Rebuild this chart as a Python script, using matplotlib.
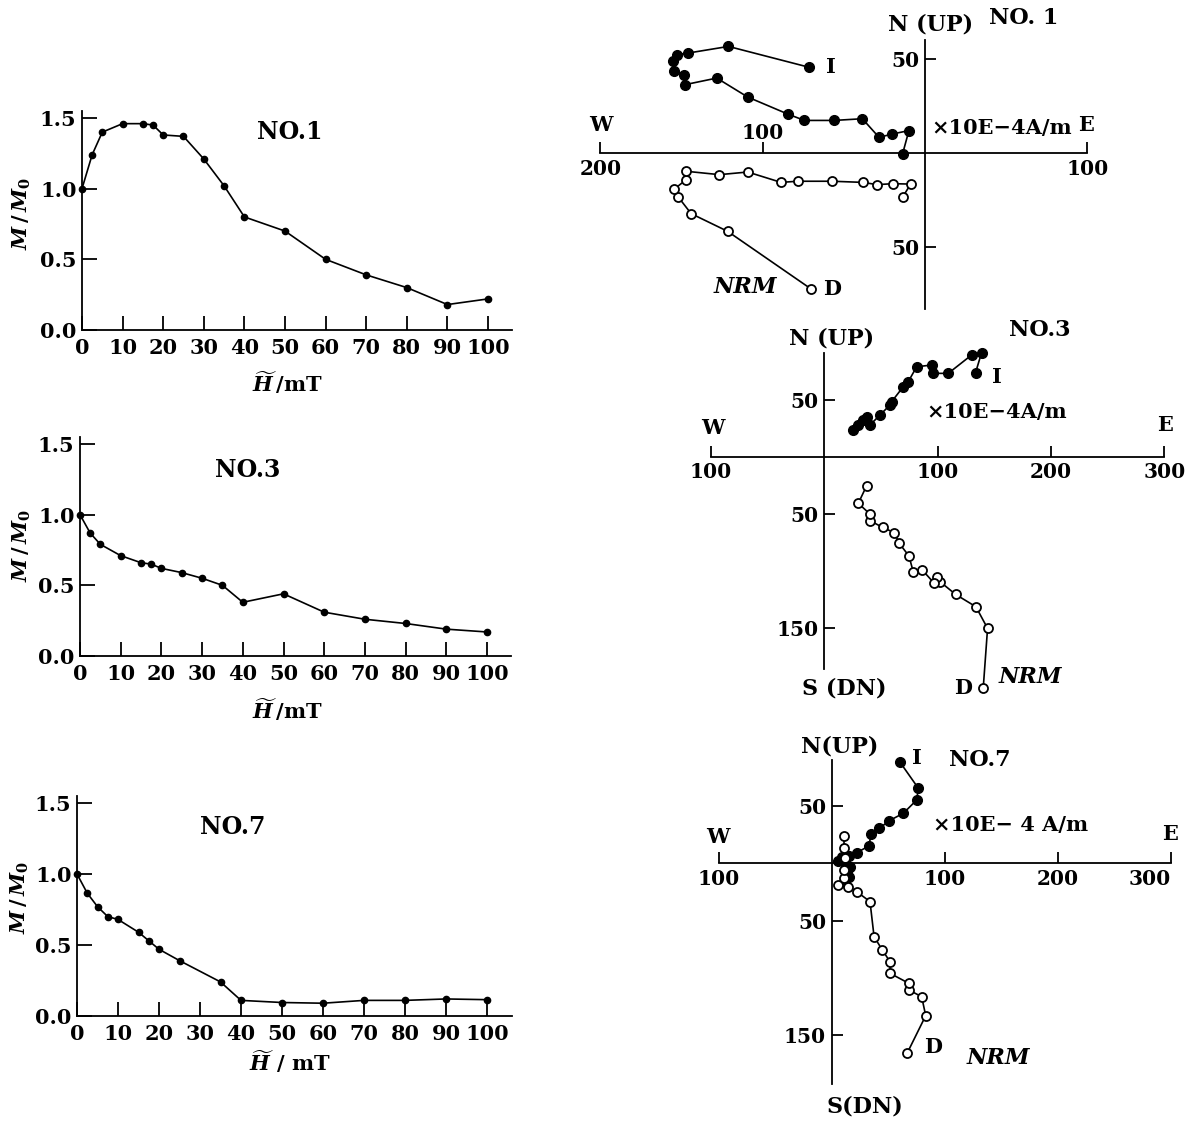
import numpy as np
import matplotlib.pyplot as plt

plt.rcParams['font.family'] = 'DejaVu Serif'
plt.rcParams['font.weight'] = 'bold'
plt.rcParams['mathtext.fontset'] = 'custom'
plt.rcParams['mathtext.rm'] = 'DejaVu Serif:bold'
plt.rcParams['mathtext.it'] = 'DejaVu Serif:italic:bold'
plt.rcParams['axes.linewidth'] = 1.3

W, H = 1190, 1126

# AF demagnetisation curves: M/M0 against peak field (mT)
field_1 = [0, 2.5, 5, 10, 15, 17.5, 20, 25, 30, 35, 40, 50, 60, 70, 80, 90, 100]
ratio_1 = [1.00, 1.24, 1.40, 1.46, 1.46, 1.45, 1.38, 1.37, 1.21, 1.02, 0.80, 0.70,
           0.50, 0.39, 0.30, 0.18, 0.22]
field_3 = [0, 2.5, 5, 10, 15, 17.5, 20, 25, 30, 35, 40, 50, 60, 70, 80, 90, 100]
ratio_3 = [1.00, 0.87, 0.79, 0.71, 0.66, 0.65, 0.62, 0.59, 0.55, 0.50, 0.38, 0.44,
           0.31, 0.26, 0.23, 0.19, 0.17]
field_7 = [0, 2.5, 5, 7.5, 10, 15, 17.5, 20, 25, 35, 40, 50, 60, 70, 80, 90, 100]
ratio_7 = [1.00, 0.865, 0.77, 0.70, 0.68, 0.59, 0.53, 0.47, 0.39, 0.24, 0.11, 0.095,
           0.09, 0.11, 0.11, 0.12, 0.115]
field_ticks = [0, 10, 20, 30, 40, 50, 60, 70, 80, 90, 100]
ratio_ticks = [0.0, 0.5, 1.0, 1.5]

# Zijderveld diagrams (x10E-4 A/m); I = vertical plane (filled), D = horizontal (open)
no1_I_e = [-71.3, -121.1, -145.8, -153.0, -155.0, -154.4, -148.5, -147.8, -128.3,
           -109.2, -84.6, -74.3, -55.9, -38.6, -28.3, -20.1, -9.9, -13.8]
no1_I_n = [45.5, 56.6, 53.1, 52.2, 48.7, 43.4, 41.6, 36.3, 39.8, 29.7, 20.7, 17.3,
           17.3, 18.2, 8.3, 10.1, 11.9, -0.4]
no1_D_e = [-70.2, -121.6, -144.1, -152.0, -154.4, -147.2, -147.2, -126.7, -109.2,
           -88.7, -78.4, -57.1, -38.4, -29.4, -19.9, -8.8, -13.8]
no1_D_n = [-72.2, -41.6, -32.2, -23.4, -19.1, -14.2, -9.7, -11.5, -10.1, -15.6,
           -15.0, -15.0, -15.6, -16.8, -16.3, -16.5, -23.4]

no3_I_e = [133.5, 138.8, 130.0, 109.4, 95.6, 94.7, 81.5, 74.1, 69.7, 59.4, 57.9,
           49.1, 40.3, 37.4, 34.4, 30.0, 25.6]
no3_I_n = [73.7, 91.2, 89.2, 73.1, 73.1, 80.4, 78.9, 65.8, 61.4, 48.2, 45.3, 36.5,
           27.8, 35.1, 32.2, 27.8, 23.4]
no3_D_e = [140.3, 144.1, 133.8, 115.9, 102.1, 99.1, 97.1, 86.5, 78.5, 74.7, 66.2,
           61.8, 51.5, 40.3, 40.3, 30.0, 37.4]
no3_D_n = [-202.6, -150.6, -131.6, -120.8, -109.6, -105.3, -111.1, -99.4, -100.9,
           -87.1, -76.0, -66.7, -62.0, -56.1, -50.3, -40.9, -25.4]

no7_I_e = [60.5, 76.7, 75.2, 63.4, 51.0, 42.2, 34.8, 33.0, 22.1, 15.6, 8.8, 5.9,
           11.8, 16.2, 13.3, 15.6, 11.8]
no7_I_n = [88.1, 65.4, 55.2, 43.6, 37.2, 30.5, 25.6, 15.1, 9.3, 6.4, 5.8, 2.3, 0.0,
           -2.9, -7.3, -11.6, -16.0]
no7_D_e = [67.0, 83.2, 79.6, 68.4, 68.4, 51.6, 51.6, 44.8, 37.5, 33.9, 22.1, 14.7,
           5.9, 10.9, 10.9, 11.8, 10.9, 10.9]
no7_D_n = [-165.1, -132.8, -116.3, -110.5, -104.7, -95.9, -85.8, -75.6, -64.0,
           -33.4, -24.7, -20.3, -18.9, -13.1, -5.8, 4.4, 13.1, 23.8]

fig = plt.figure(figsize=(W / 100, H / 100), dpi=100)


def ftext(x, y, s, size=15, **kw):
    fig.text(x / W, 1 - y / H, s, fontsize=size, ha=kw.pop('ha', 'center'),
             va=kw.pop('va', 'center'), **kw)


def curve_axes(px0, px100, py0, py15, fields, ratios):
    sx = (px100 - px0) / 100
    sy = (py0 - py15) / 1.5
    left, right = px0, px0 + 106 * sx
    bottom, top = py0, py0 - 1.55 * sy
    ax = fig.add_axes([left / W, 1 - bottom / H, (right - left) / W, (bottom - top) / H])
    ax.set_xlim(0, 106)
    ax.set_ylim(0, 1.55)
    ax.spines[['top', 'right']].set_visible(False)
    ax.plot(fields, ratios, color='black', lw=1.2, marker='o', ms=4.5, clip_on=False)
    ax.set_xticks(field_ticks)
    ax.set_yticks(ratio_ticks, [f'{v:.1f}' for v in ratio_ticks])
    ax.tick_params(direction='in', labelsize=15, width=1.3, pad=6)
    ax.tick_params(axis='x', length=10)
    ax.tick_params(axis='y', length=11, pad=4)
    ax.patch.set_alpha(0)
    return ax


curve_axes(82, 488, 330, 118, field_1, ratio_1)
curve_axes(80, 487, 656, 444, field_3, ratio_3)
curve_axes(77, 487, 1016, 803, field_7, ratio_7)

ftext(290, 132, 'NO.1', size=17)
ftext(248, 470, 'NO.3', size=17)
ftext(233, 827, 'NO.7', size=17)
for (x, y) in [(22, 213), (22, 545), (20, 897)]:
    ftext(x, y, r'$M\,/\,M_0$', size=15, rotation=90)
ftext(287, 383, r'$\widetilde{H}\,/\mathrm{mT}$', size=15)
ftext(287, 710, r'$\widetilde{H}\,/\mathrm{mT}$', size=15)
ftext(290, 1062, r'$\widetilde{H}\ /\ \mathrm{mT}$', size=15)


def zij_axes(ox, oy, sx, sy, xlim, ylim, xb, yb, xt, xl, yt, yl):
    left, right = ox + xlim[0] * sx, ox + xlim[1] * sx
    top, bottom = oy - ylim[1] * sy, oy - ylim[0] * sy
    ax = fig.add_axes([left / W, 1 - bottom / H, (right - left) / W, (bottom - top) / H])
    ax.set_xlim(xlim)
    ax.set_ylim(ylim)
    ax.spines[['top', 'right']].set_visible(False)
    ax.spines['left'].set_position(('data', 0))
    ax.spines['bottom'].set_position(('data', 0))
    ax.spines['bottom'].set_bounds(*xb)
    ax.spines['left'].set_bounds(*yb)
    ax.set_xticks(xt, xl)
    ax.set_yticks(yt, yl)
    ax.tick_params(direction='in', labelsize=14.5, width=1.3, length=8, pad=4)
    ax.patch.set_alpha(0)
    return ax


def zij_path(ax, e_i, n_i, e_d, n_d):
    ax.plot(e_i, n_i, color='black', lw=1.2, marker='o', ms=7, clip_on=False)
    ax.plot(e_d, n_d, color='black', lw=1.2, marker='o', ms=6.5, mfc='white',
            mec='black', mew=1.3, clip_on=False)


# NO.1
ax1 = zij_axes(925, 153, 1.623, 1.883, (-205, 105), (-90, 65), (-200, 100), (-83, 60),
               [-200, -100, 100], ['200', '', '100'], [-50, 50], ['50', '50'])
zij_path(ax1, no1_I_e, no1_I_n, no1_D_e, no1_D_n)
ftext(763, 133, '100', size=14.5)
ftext(601, 125, 'W')
ftext(1086, 125, 'E')
ftext(931, 25, 'N (UP)', size=16)
ftext(1024, 18, 'NO. 1', size=16)
ftext(1002, 128, '×10E−4A/m', size=15)
ftext(831, 67, 'I', size=15)
ftext(832, 289, 'D', size=15)
ftext(745, 287, 'NRM', size=16, style='italic')

# NO.3
ax3 = zij_axes(824.3, 456.7, 1.133, 1.14, (-105, 305), (-210, 95), (-100, 300), (-186, 91),
               [-100, 100, 200, 300], ['100', '100', '200', '300'],
               [50, -50, -150], ['50', '50', '150'])
zij_path(ax3, no3_I_e, no3_I_n, no3_D_e, no3_D_n)
ftext(713, 428, 'W')
ftext(1165, 425, 'E')
ftext(832, 338, 'N (UP)', size=16)
ftext(1040, 330, 'NO.3', size=16)
ftext(997, 412, '×10E−4A/m', size=15)
ftext(997, 377, 'I', size=15)
ftext(844, 688, 'S (DN)', size=16)
ftext(963, 688, 'D', size=15)
ftext(1030, 677, 'NRM', size=16, style='italic')

# NO.7
ax7 = zij_axes(831.7, 863.3, 1.13, 1.147, (-105, 305), (-200, 100), (-100, 300), (-192, 90),
               [-100, 100, 200, 300], ['100', '100', '200', '300'],
               [50, -50, -150], ['50', '50', '150'])
ax7.get_xticklabels()[-1].set_horizontalalignment('right')
ax7.get_xticklabels()[-1].set_x(305)
zij_path(ax7, no7_I_e, no7_I_n, no7_D_e, no7_D_n)
ftext(718, 837, 'W')
ftext(1170, 834, 'E')
ftext(840, 747, 'N(UP)', size=16)
ftext(917, 758, 'I', size=15)
ftext(980, 760, 'NO.7', size=16)
ftext(1011, 825, '×10E− 4 A/m', size=15)
ftext(865, 1107, 'S(DN)', size=16)
ftext(933, 1047, 'D', size=15)
ftext(998, 1058, 'NRM', size=16, style='italic')

fig.savefig('out.png', dpi=100)
